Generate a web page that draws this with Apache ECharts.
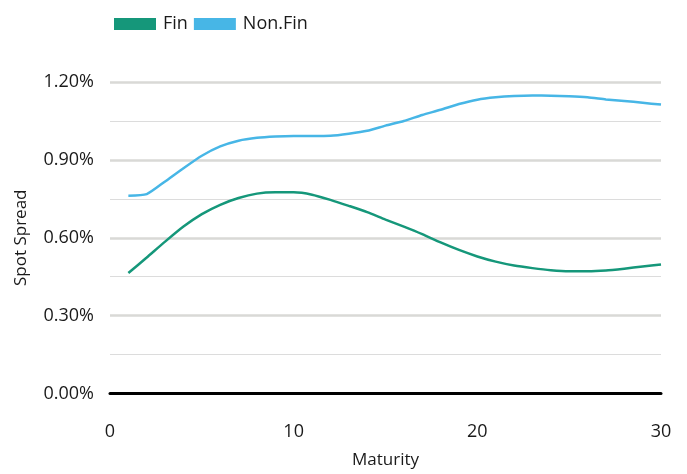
<!DOCTYPE html>
<html>
<head>
<meta charset="utf-8">
<script src="https://cdn.jsdelivr.net/npm/echarts@6/dist/echarts.min.js"></script>
<style>
  html, body { margin: 0; padding: 0; background: #ffffff; }
  #chart { width: 687px; height: 474px; }
</style>
</head>
<body>
<div id="chart"></div>
<script>
// Maturity in years
const maturity = [1, 2, 3, 4, 5, 6, 7, 8, 9, 10, 11, 12, 13, 14, 15,
                  16, 17, 18, 19, 20, 21, 22, 23, 24, 25, 26, 27, 28, 29, 30];
// Spot spreads in percent
const finSpread = [0.464, 0.524, 0.585, 0.643, 0.691, 0.727, 0.753, 0.770, 0.775, 0.775,
                   0.766, 0.746, 0.723, 0.699, 0.670, 0.643, 0.614, 0.582, 0.553, 0.528,
                   0.508, 0.493, 0.483, 0.475, 0.471, 0.471, 0.474, 0.481, 0.489, 0.497];
const nonFinSpread = [0.762, 0.768, 0.817, 0.868, 0.916, 0.952, 0.974, 0.985, 0.990, 0.992,
                      0.992, 0.993, 1.001, 1.012, 1.032, 1.050, 1.073, 1.093, 1.115, 1.132,
                      1.141, 1.146, 1.148, 1.147, 1.145, 1.141, 1.133, 1.127, 1.120, 1.113];
const seriesNames = ['Fin', 'Non.Fin'];

const pair = (xs, ys) => xs.map((x, i) => [x, ys[i]]);
const FONT = '"Open Sans"';
const INK = '#1a1a1a';

const chart = echarts.init(document.getElementById('chart'), null, { renderer: 'canvas' });
chart.setOption({
  animation: false,
  backgroundColor: '#ffffff',
  textStyle: { fontFamily: FONT, color: INK },
  legend: {
    data: seriesNames,
    left: 109,
    top: 10,
    icon: 'rect',
    itemWidth: 42,
    itemHeight: 12,
    itemGap: 6,
    textStyle: { fontFamily: FONT, fontSize: 18, color: INK, padding: [0, 0, 0, 2] }
  },
  grid: { left: 110, right: 26, top: 82, bottom: 80.5, containLabel: false },
  xAxis: {
    type: 'value',
    min: 0, max: 30, interval: 10,
    name: 'Maturity',
    nameLocation: 'middle',
    nameGap: 58,
    nameTextStyle: { fontFamily: FONT, fontSize: 17, color: INK },
    axisLine: { show: true, onZero: true, lineStyle: { color: '#000000', width: 3 } },
    axisTick: { show: false },
    splitLine: { show: false },
    axisLabel: { margin: 29, fontFamily: FONT, fontSize: 18, color: INK }
  },
  yAxis: {
    type: 'value',
    min: 0, max: 1.2, interval: 0.3,
    name: 'Spot Spread',
    nameLocation: 'middle',
    nameGap: 80,
    nameTextStyle: { fontFamily: FONT, fontSize: 17, color: INK },
    axisLine: { show: false },
    axisTick: { show: false },
    axisLabel: {
      margin: 16, fontFamily: FONT, fontSize: 18, color: INK,
      formatter: v => v.toFixed(2) + '%'
    },
    splitLine: { show: true, lineStyle: { color: '#d9d9d6', width: 2.5 } },
    minorTick: { show: false, splitNumber: 2 },
    minorSplitLine: { show: true, lineStyle: { color: '#dcdcdc', width: 1.2 } }
  },
  series: [
    {
      name: seriesNames[0],
      type: 'line',
      data: pair(maturity, finSpread),
      smooth: 0.2,
      showSymbol: false,
      symbol: 'none',
      color: '#15977a',
      lineStyle: { width: 2.5, color: '#15977a' },
      z: 3
    },
    {
      name: seriesNames[1],
      type: 'line',
      data: pair(maturity, nonFinSpread),
      smooth: 0.2,
      showSymbol: false,
      symbol: 'none',
      color: '#47b6e6',
      lineStyle: { width: 2.5, color: '#47b6e6' },
      z: 3
    }
  ]
});
</script>
</body>
</html>
